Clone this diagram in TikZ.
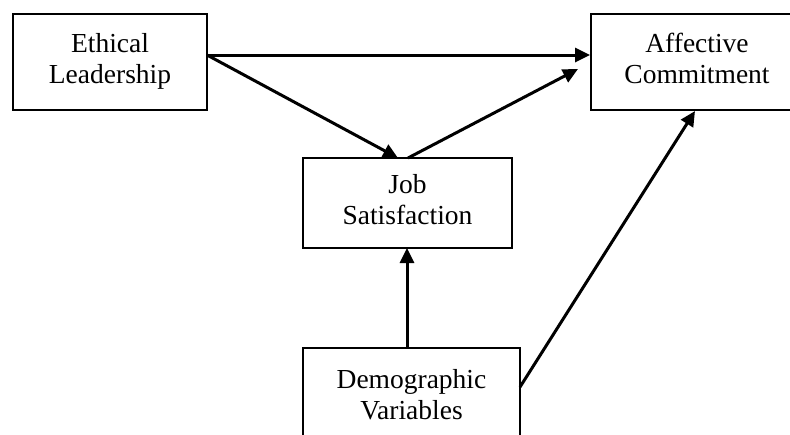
\documentclass[tikz,border=0pt]{standalone}
\usepackage{fontspec}
\setmainfont{Liberation Serif}
\usetikzlibrary{arrows.meta}
\newcommand{\lowpad}{\rule[-7pt]{0pt}{0pt}}
\tikzset{
  boxnode/.style={draw=black, line width=1.8pt, inner sep=0pt, align=center,
    font=\fontsize{27.5}{31}\selectfont},
  arr/.style={line width=3pt, -{Triangle[length=15pt,width=14pt]}}
}
\begin{document}
\begin{tikzpicture}[x=1pt,y=-1pt]
\useasboundingbox (0,0) rectangle (790,434);
\clip (0,0) rectangle (790,434);
\node[boxnode, minimum width=194pt, minimum height=96pt] (eth) at (110,62) {Ethical\\Leadership\lowpad};
\node[boxnode, minimum width=212pt, minimum height=96pt] (aff) at (697,62) {Affective\\Commitment\lowpad};
\node[boxnode, minimum width=209pt, minimum height=90pt] (js) at (407.5,203) {Job\\Satisfaction\lowpad};
\node[boxnode, minimum width=217pt, minimum height=100pt] (demo) at (411.5,398) {Demographic\\Variables\lowpad};
\coordinate (w) at (207,55);
\coordinate (jt) at (398,158);
\coordinate (js2) at (408,158);
\coordinate (a2) at (578,69);
\coordinate (jb) at (407,248);
\coordinate (dt) at (407,348);
\coordinate (de) at (520,387);
\coordinate (ab) at (695,111);
\draw[arr] (w) -- (aff.west |- w);
\draw[arr] (w) -- (jt);
\draw[arr] (js2) -- (a2);
\draw[arr] (dt) -- (jb);
\draw[arr] (de) -- (ab);
\end{tikzpicture}
\end{document}
